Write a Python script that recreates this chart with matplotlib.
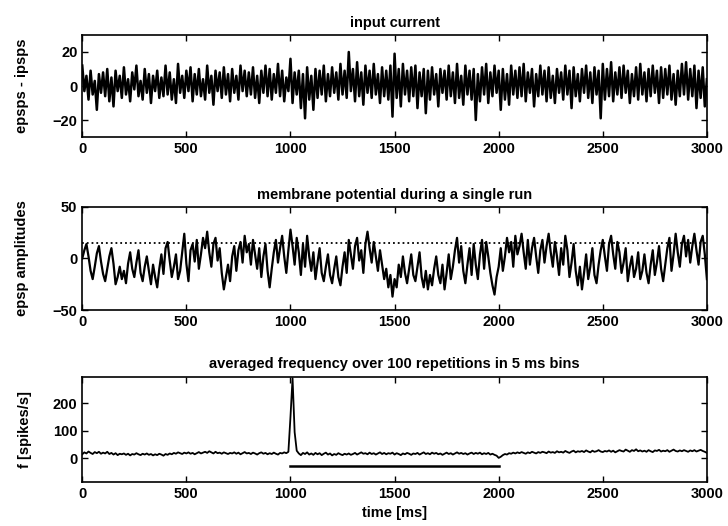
import matplotlib
matplotlib.use("Agg")
import matplotlib.pyplot as plt
import numpy as np

# sample times (ms), one reading every 10 ms
t = np.arange(0, 3001, 10)

# input current (epsps - ipsps)
current = [
    12, -3, 6, -8, 9, -5, 3, -14, 7, -4,
    8, -6, 10, -9, 5, -12, 9, -3, 6, -7,
    11, -5, 4, -9, 8, -2, 12, -6, 3, -8,
    10, -4, 7, -10, 6, -3, 9, -7, 5, -6,
    12, -5, 8, -8, 4, -10, 13, -4, 6, -7,
    9, -3, 11, -9, 7, -5, 10, -6, 4, -8,
    12, -4, 6, -11, 9, -3, 8, -7, 11, -5,
    7, -9, 10, -4, 6, -8, 12, -3, 9, -6,
    8, -5, 11, -7, 6, -10, 9, -4, 12, -6,
    10, -8, 7, -4, 13, -6, 9, -9, 5, -3,
    16, -10, 8, -5, 9, -13, 7, -19, 11, -8,
    6, -14, 10, -7, 9, -5, 12, -9, 7, -6,
    11, -4, 8, -8, 13, -5, 9, -7, 20, -3,
    10, -9, 14, -6, 8, -11, 12, -4, 9, -7,
    13, -5, 7, -10, 11, -6, 9, -8, 12, -18,
    19, -7, 10, -12, 13, -5, 9, -9, 11, -6,
    12, -13, 8, -6, 10, -16, 9, -8, 11, -5,
    7, -12, 10, -4, 9, -8, 12, -6, 8, -10,
    13, -7, 6, -11, 12, -5, 9, -8, 10, -20,
    7, -9, 11, -5, 13, -10, 8, -6, 12, -4,
    9, -14, 10, -8, 7, -11, 12, -5, 9, -7,
    11, -6, 13, -9, 8, -4, 10, -12, 7, -6,
    12, -5, 9, -9, 11, -7, 6, -10, 10, -4,
    8, -8, 12, -5, 9, -13, 11, -6, 7, -9,
    10, -4, 12, -7, 8, -10, 11, -5, 9, -19,
    13, -8, 10, -6, 14, -9, 8, -5, 11, -7,
    12, -4, 9, -10, 7, -6, 11, -8, 13, -5,
    8, -9, 10, -6, 12, -4, 9, -10, 11, -7,
    10, -5, 12, -8, 7, -11, 9, -6, 13, -5,
    14, -8, 10, -6, 12, -13, 9, -7, 11, -12,
    4,
]

# membrane potential during a single run
potential = [
    0, 8, 14, 2, -12, -20, -8, 5, 12, -3,
    -15, -22, -10, 2, 10, -5, -25, -18, -8, -20,
    -12, -24, -5, 6, -10, -18, -4, 8, -14, -22,
    -8, 2, -12, -25, -6, -18, -28, -10, 4, -15,
    10, 16, -2, -18, -8, 4, -20, -12, 6, 24,
    -5, -22, 8, 14, -3, 18, -10, 4, 20, 10,
    26, 6, -8, 14, 20, -2, 10, -14, -30, -18,
    -6, -22, 2, 12, -12, 8, 16, -4, 22, 6,
    14, -6, 18, 4, -10, 10, -18, 2, 14, -12,
    -28, -10, 6, 18, -4, 10, 22, 2, -14, 8,
    28, 12, -6, 20, 6, -16, 14, -8, 22, 2,
    -12, 6, -20, -4, 10, -14, -22, -8, 4, -16,
    -24, -10, 2, -18, -26, -8, 6, -14, 18, 4,
    -10, 12, 20, -2, 8, -14, 14, 26, 10, -4,
    16, 2, -12, 8, -6, -20, -10, -28, -16, -37,
    -20, -28, -6, -18, 2, -14, -24, -10, 4, -16,
    -22, -8, 6, -18, -28, -12, -30, -16, -26, -10,
    2, -16, -24, -6, -30, -14, 4, -20, -8, 8,
    20, -4, 12, -12, -24, -6, 10, -16, 14, -6,
    -20, 4, 18, -10, 16, 2, -14, -26, -35, -18,
    -8, 10, -12, 2, 20, 6, 16, -8, 22, 4,
    12, 24, 6, -10, 18, -6, 10, 20, 2, -14,
    8, 18, -4, 12, 24, 6, -8, 16, 2, -16,
    10, -6, 22, 8, -18, -4, 14, -12, -26, -8,
    -30, -14, 4, -20, -8, 10, -16, -24, -6, 8,
    18, 2, -12, 14, 22, 4, -10, 16, 6, -14,
    -4, 10, -22, -8, 2, -18, -10, 6, -20, -12,
    4, -14, -24, -6, 8, -16, -4, 12, -10, -22,
    -6, 10, 20, -12, 4, 24, 6, -8, 14, 22,
    2, 18, -4, 12, 24, 8, -6, 16, 22, 4,
    -20,
]
threshold = 15

# averaged firing rate (spikes/s)
rate = [
    15, 22, 18, 25, 20, 16, 23, 19, 24, 17,
    21, 18, 24, 16, 20, 14, 19, 12, 17, 15,
    18, 13, 17, 11, 16, 14, 19, 15, 12, 17,
    14, 18, 13, 16, 11, 15, 12, 17, 14, 10,
    16, 13, 18, 15, 20, 17, 22, 19, 16, 21,
    18, 22, 17, 20, 15, 19, 23, 18, 21, 24,
    20, 26, 22, 18, 24, 19, 21, 17, 22, 19,
    16, 20, 18, 22, 17, 21, 15, 19, 23, 18,
    20, 16, 21, 18, 14, 19, 22, 17, 20, 15,
    19, 16, 21, 17, 14, 20, 18, 22, 19, 24,
    150, 290, 95, 28, 18, 12, 20, 16, 22, 14,
    18, 13, 20, 15, 19, 12, 17, 21, 14, 18,
    11, 16, 13, 19, 15, 12, 17, 14, 18, 13,
    16, 20, 14, 18, 22, 17, 19, 15, 21, 16,
    19, 14, 18, 22, 16, 20, 15, 19, 17, 21,
    14, 19, 16, 12, 18, 15, 20, 17, 13, 18,
    16, 20, 14, 18, 22, 16, 19, 15, 21, 17,
    20, 15, 18, 13, 17, 21, 16, 19, 14, 18,
    22, 17, 20, 16, 19, 14, 18, 21, 16, 20,
    17, 21, 15, 19, 16, 20, 14, 17, 13, 10,
    2, 6, 12, 16, 14, 19, 17, 21, 18, 22,
    19, 23, 20, 17, 22, 19, 24, 21, 18, 23,
    20, 24, 22, 19, 25, 21, 23, 20, 26, 22,
    24, 21, 27, 23, 20, 25, 28, 22, 26, 24,
    27, 23, 29, 25, 22, 28, 24, 26, 30, 25,
    23, 27, 25, 29, 24, 28, 22, 26, 30, 27,
    25, 32, 28, 24, 30, 27, 33, 26, 29, 25,
    28, 24, 30, 26, 23, 29, 27, 31, 25, 28,
    26, 30, 24, 28, 32, 27, 25, 29, 26, 30,
    27, 24, 29, 26, 30, 25, 28, 31, 27, 24,
    20,
]
# stimulus bar under the rate trace
stim_start, stim_end, stim_level = 1000, 2000, -27

plt.rcParams["font.family"] = ["Liberation Sans", "DejaVu Sans"]
plt.rcParams["font.size"] = 10.5
plt.rcParams["font.weight"] = "bold"
plt.rcParams["axes.labelweight"] = "bold"
plt.rcParams["axes.titleweight"] = "bold"

fig = plt.figure(figsize=(7.28, 5.26), dpi=100)
ax1 = fig.add_axes([0.113, 0.7395, 0.858, 0.194])
ax2 = fig.add_axes([0.113, 0.4106, 0.858, 0.196])
ax3 = fig.add_axes([0.113, 0.0837, 0.858, 0.200])

ax1.plot(t, current, color="black", lw=1.8)
ax1.set_ylim(-30, 30)
ax1.set_yticks([-20, 0, 20])
ax1.set_title("input current", fontsize=10.5)
ax1.set_ylabel("epsps - ipsps")

ax2.plot(t, potential, color="black", lw=1.6)
ax2.plot([0, 3000], [threshold, threshold], color="black", lw=1.3, ls=":")
ax2.set_ylim(-50, 50)
ax2.set_yticks([-50, 0, 50])
ax2.set_title("membrane potential during a single run", fontsize=10.5)
ax2.set_ylabel("epsp amplitudes")

ax3.plot(t, rate, color="black", lw=1.3)
ax3.plot([stim_start, stim_end], [stim_level, stim_level], color="black", lw=1.8)
ax3.set_ylim(-85, 295)
ax3.set_yticks([0, 100, 200])
ax3.set_title("averaged frequency over 100 repetitions in 5 ms bins", fontsize=10.5)
ax3.set_ylabel("f [spikes/s]")
ax3.set_xlabel("time [ms]")

for ax, lx in [(ax1, -0.085), (ax2, -0.085), (ax3, -0.08)]:
    ax.set_xlim(0, 3000)
    ax.set_xticks(range(0, 3001, 500))
    ax.tick_params(direction="in", top=True, right=True, length=4, width=1)
    for s in ax.spines.values():
        s.set_linewidth(1.2)
    ax.yaxis.set_label_coords(lx, 0.5)

fig.savefig("out.png", dpi=100)
